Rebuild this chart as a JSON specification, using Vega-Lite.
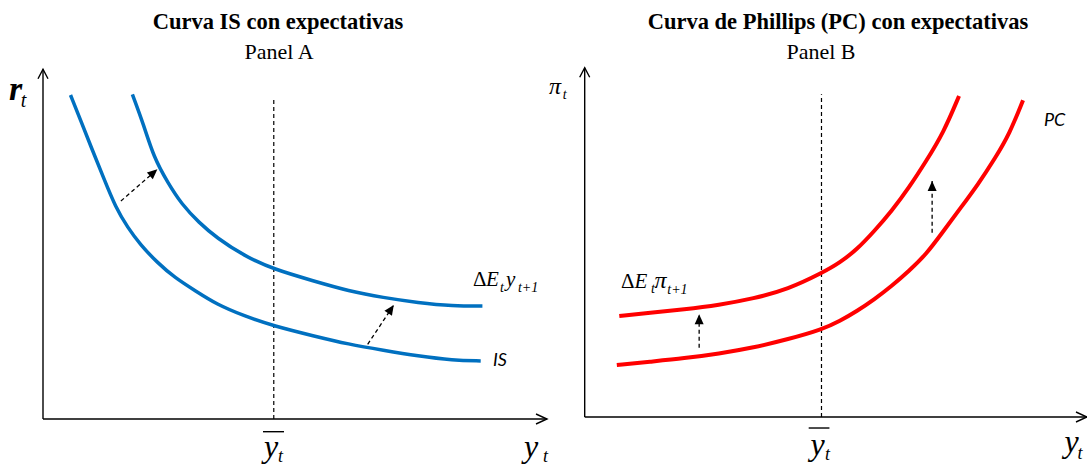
{
  "$schema": "https://vega.github.io/schema/vega-lite/v6.json",
  "padding": 0,
  "autosize": {"type": "pad"},
  "background": "white",
  "spacing": 0,
  "bounds": "flush",
  "config": {"view": {"stroke": "transparent"}},
  "resolve": {"scale": {"x": "independent", "y": "independent"}},
  "datasets": {
    "curvesA": [
      {"s": "IS", "x": 5.47, "y": 93.10}, {"s": "IS", "x": 7.54, "y": 85.63}, {"s": "IS", "x": 9.62, "y": 77.96},
      {"s": "IS", "x": 12.03, "y": 69.34}, {"s": "IS", "x": 14.45, "y": 60.72}, {"s": "IS", "x": 16.87, "y": 54.97},
      {"s": "IS", "x": 19.28, "y": 50.20}, {"s": "IS", "x": 22.74, "y": 44.91}, {"s": "IS", "x": 26.20, "y": 40.60},
      {"s": "IS", "x": 30.34, "y": 36.78}, {"s": "IS", "x": 34.49, "y": 32.96}, {"s": "IS", "x": 39.99, "y": 29.60},
      {"s": "IS", "x": 45.88, "y": 26.72}, {"s": "IS", "x": 53.84, "y": 23.85}, {"s": "IS", "x": 60.76, "y": 21.47},
      {"s": "IS", "x": 67.65, "y": 19.74}, {"s": "IS", "x": 74.57, "y": 18.10}, {"s": "IS", "x": 81.49, "y": 16.87},
      {"s": "IS", "x": 87.02, "y": 16.67},
      {"s": "IS2", "x": 17.77, "y": 93.30}, {"s": "IS2", "x": 19.98, "y": 84.68}, {"s": "IS2", "x": 22.05, "y": 75.09},
      {"s": "IS2", "x": 24.81, "y": 67.90}, {"s": "IS2", "x": 27.57, "y": 61.69}, {"s": "IS2", "x": 31.03, "y": 56.41},
      {"s": "IS2", "x": 34.49, "y": 52.10}, {"s": "IS2", "x": 40.02, "y": 46.84}, {"s": "IS2", "x": 45.88, "y": 43.02},
      {"s": "IS2", "x": 53.84, "y": 39.66}, {"s": "IS2", "x": 60.76, "y": 36.78}, {"s": "IS2", "x": 67.65, "y": 34.86},
      {"s": "IS2", "x": 74.57, "y": 33.42}, {"s": "IS2", "x": 81.49, "y": 32.47}, {"s": "IS2", "x": 87.36, "y": 32.47}
    ],
    "curvesB": [
      {"s": "PC", "x": 6.40, "y": 14.89}, {"s": "PC", "x": 12.95, "y": 15.84}, {"s": "PC", "x": 19.83, "y": 16.80},
      {"s": "PC", "x": 26.72, "y": 18.13}, {"s": "PC", "x": 33.61, "y": 19.85}, {"s": "PC", "x": 40.49, "y": 22.24},
      {"s": "PC", "x": 47.38, "y": 25.10}, {"s": "PC", "x": 50.82, "y": 27.48}, {"s": "PC", "x": 54.26, "y": 30.35},
      {"s": "PC", "x": 57.70, "y": 33.69}, {"s": "PC", "x": 61.15, "y": 37.50}, {"s": "PC", "x": 64.59, "y": 41.80},
      {"s": "PC", "x": 68.03, "y": 46.57}, {"s": "PC", "x": 71.47, "y": 53.25}, {"s": "PC", "x": 74.92, "y": 59.93},
      {"s": "PC", "x": 78.37, "y": 66.61}, {"s": "PC", "x": 81.81, "y": 74.24}, {"s": "PC", "x": 84.57, "y": 80.93},
      {"s": "PC", "x": 87.32, "y": 90.66},
      {"s": "PC2", "x": 6.89, "y": 28.92}, {"s": "PC2", "x": 12.95, "y": 29.87}, {"s": "PC2", "x": 19.83, "y": 30.82},
      {"s": "PC2", "x": 26.72, "y": 32.06}, {"s": "PC2", "x": 33.61, "y": 33.88}, {"s": "PC2", "x": 40.49, "y": 36.55},
      {"s": "PC2", "x": 47.38, "y": 41.32}, {"s": "PC2", "x": 50.82, "y": 44.18}, {"s": "PC2", "x": 54.26, "y": 48.00},
      {"s": "PC2", "x": 57.70, "y": 53.25}, {"s": "PC2", "x": 61.15, "y": 58.98}, {"s": "PC2", "x": 64.59, "y": 65.65},
      {"s": "PC2", "x": 68.03, "y": 73.29}, {"s": "PC2", "x": 71.47, "y": 81.40}, {"s": "PC2", "x": 74.57, "y": 91.90}
    ],
    "axesA": [
      {"x": 0, "y": 0, "x2": 0, "y2": 100.5},
      {"x": 0, "y": 0, "x2": 100.2, "y2": 0},
      {"x": 43.74, "y": -3.65, "x2": 47.91, "y2": -3.65}
    ],
    "axesB": [
      {"x": 0, "y": 0, "x2": 0, "y2": 100.0},
      {"x": 0, "y": 0, "x2": 100.06, "y2": 0},
      {"x": 44.62, "y": -3.15, "x2": 48.75, "y2": -3.15}
    ],
    "tipYA": [{"x": 0, "y": 100.5}],
    "tipXA": [{"x": 100.2, "y": 0}],
    "tipYB": [{"x": 0, "y": 100.0}],
    "tipXB": [{"x": 100.06, "y": 0}],
    "refA": [{"x": 45.88, "y": 0, "x2": 45.88, "y2": 92.53}],
    "refB": [{"x": 47.17, "y": 0, "x2": 47.17, "y2": 92.38}],
    "shiftA": [
      {"x": 15.49, "y": 62.64, "x2": 22.74, "y2": 71.75},
      {"x": 64.55, "y": 21.47, "x2": 69.74, "y2": 32.76}
    ],
    "shiftB": [
      {"x": 22.80, "y": 19.85, "x2": 22.80, "y2": 29.40},
      {"x": 69.21, "y": 52.77, "x2": 69.21, "y2": 67.56}
    ],
    "headA1": [{"x": 22.74, "y": 71.75}],
    "headA2": [{"x": 69.74, "y": 32.76}],
    "headB": [{"x": 22.80, "y": 29.40}, {"x": 69.21, "y": 67.56}],
    "labelsA": [
      {"k": "title", "x": 46.72, "y": 112.07, "text": "Curva IS con expectativas"},
      {"k": "panel", "x": 46.92, "y": 103.45, "text": "Panel A"},
      {"k": "r", "x": -6.76, "y": 91.67, "text": "r"},
      {"k": "subR", "x": -4.4, "y": 89.51, "text": "t"},
      {"k": "axisIt", "x": 43.94, "y": -10.78, "text": "y"},
      {"k": "subBig", "x": 46.72, "y": -12.36, "text": "t"},
      {"k": "axisIt", "x": 95.63, "y": -10.78, "text": "y"},
      {"k": "subBig", "x": 99.40, "y": -12.36, "text": "t"},
      {"k": "delta", "x": 85.49, "y": 38.22, "text": "Δ"},
      {"k": "curveIt", "x": 88.07, "y": 38.22, "text": "E"},
      {"k": "subSmall", "x": 90.85, "y": 36.49, "text": "t"},
      {"k": "curveIt", "x": 92.05, "y": 38.22, "text": "y"},
      {"k": "subSmall", "x": 94.43, "y": 36.49, "text": "t+1"},
      {"k": "sans", "x": 89.46, "y": 15.23, "text": "IS"}
    ],
    "labelsB": [
      {"k": "title", "x": 50.46, "y": 111.08, "text": "Curva de Phillips (PC) con expectativas"},
      {"k": "panel", "x": 47.07, "y": 102.49, "text": "Panel B"},
      {"k": "pi", "x": -7.11, "y": 92.40, "text": "π"},
      {"k": "subSmall", "x": -4.38, "y": 90.95, "text": "t"},
      {"k": "axisIt", "x": 44.96, "y": -10.88, "text": "y"},
      {"k": "subBig", "x": 47.87, "y": -12.31, "text": "t"},
      {"k": "axisIt", "x": 95.58, "y": -10.02, "text": "y"},
      {"k": "subBig", "x": 98.15, "y": -12.02, "text": "t"},
      {"k": "delta", "x": 7.23, "y": 37.07, "text": "Δ"},
      {"k": "curveIt", "x": 9.92, "y": 37.07, "text": "E"},
      {"k": "subSmall", "x": 13.21, "y": 35.50, "text": "t"},
      {"k": "pi", "x": 13.90, "y": 37.07, "text": "π"},
      {"k": "subSmall", "x": 16.45, "y": 35.21, "text": "t+1"},
      {"k": "sans", "x": 91.49, "y": 83.31, "text": "PC"}
    ]
  },
  "hconcat": [
    {
      "width": 545,
      "height": 464,
      "encoding": {
        "x": {"field": "x", "type": "quantitative", "scale": {"domain": [-8.35, 100], "nice": false, "zero": false}, "axis": null},
        "y": {"field": "y", "type": "quantitative", "scale": {"domain": [-13.22, 120.11], "nice": false, "zero": false}, "axis": null}
      },
      "layer": [
        {"data": {"name": "refA"}, "mark": {"type": "rule", "color": "black", "strokeWidth": 1.2, "strokeDash": [4, 3]}, "encoding": {"x2": {"field": "x2"}, "y2": {"field": "y2"}}},
        {"data": {"name": "axesA"}, "mark": {"type": "rule", "color": "black", "strokeWidth": 1.4}, "encoding": {"x2": {"field": "x2"}, "y2": {"field": "y2"}}},
        {"data": {"name": "tipYA"}, "mark": {"type": "point", "shape": "M-0.5,0.95L0,0L0.5,0.95", "size": 400, "filled": false, "color": "black", "strokeWidth": 1.4, "opacity": 1}},
        {"data": {"name": "tipXA"}, "mark": {"type": "point", "shape": "M-1.1,-0.5L0,0L-1.1,0.5", "size": 400, "filled": false, "color": "black", "strokeWidth": 1.4, "opacity": 1}},
        {"data": {"name": "curvesA"}, "mark": {"type": "line", "color": "#0070C0", "strokeWidth": 3.5, "interpolate": "basis"}, "encoding": {"detail": {"field": "s"}}},
        {"data": {"name": "shiftA"}, "mark": {"type": "rule", "color": "black", "strokeWidth": 1.3, "strokeDash": [4, 3]}, "encoding": {"x2": {"field": "x2"}, "y2": {"field": "y2"}}},
        {"data": {"name": "headA1"}, "mark": {"type": "point", "shape": "M0,0L-0.45,1L0.45,1Z", "size": 400, "filled": true, "color": "black", "opacity": 1, "angle": 49}},
        {"data": {"name": "headA2"}, "mark": {"type": "point", "shape": "M0,0L-0.45,1L0.45,1Z", "size": 400, "filled": true, "color": "black", "opacity": 1, "angle": 34}},
        {"data": {"name": "labelsA"}, "transform": [{"filter": "datum.k === 'title'"}], "mark": {"type": "text", "font": "Liberation Serif", "fontSize": 22.5, "fontWeight": "bold", "align": "center", "baseline": "alphabetic", "color": "black"}, "encoding": {"text": {"field": "text"}}},
        {"data": {"name": "labelsA"}, "transform": [{"filter": "datum.k === 'panel'"}], "mark": {"type": "text", "font": "Liberation Serif", "fontSize": 22, "align": "center", "baseline": "alphabetic", "color": "black"}, "encoding": {"text": {"field": "text"}}},
        {"data": {"name": "labelsA"}, "transform": [{"filter": "datum.k === 'r'"}], "mark": {"type": "text", "font": "Liberation Serif", "fontSize": 34, "fontStyle": "italic", "fontWeight": "bold", "align": "left", "baseline": "alphabetic", "color": "black"}, "encoding": {"text": {"field": "text"}}},
        {"data": {"name": "labelsA"}, "transform": [{"filter": "datum.k === 'subR'"}], "mark": {"type": "text", "font": "Liberation Serif", "fontSize": 20, "fontStyle": "italic", "align": "left", "baseline": "alphabetic", "color": "black"}, "encoding": {"text": {"field": "text"}}},
        {"data": {"name": "labelsA"}, "transform": [{"filter": "datum.k === 'axisIt'"}], "mark": {"type": "text", "font": "Liberation Serif", "fontSize": 32, "fontStyle": "italic", "align": "left", "baseline": "alphabetic", "color": "black"}, "encoding": {"text": {"field": "text"}}},
        {"data": {"name": "labelsA"}, "transform": [{"filter": "datum.k === 'subBig'"}], "mark": {"type": "text", "font": "Liberation Serif", "fontSize": 18, "fontStyle": "italic", "align": "left", "baseline": "alphabetic", "color": "black"}, "encoding": {"text": {"field": "text"}}},
        {"data": {"name": "labelsA"}, "transform": [{"filter": "datum.k === 'delta'"}], "mark": {"type": "text", "font": "Liberation Serif", "fontSize": 21, "align": "left", "baseline": "alphabetic", "color": "black"}, "encoding": {"text": {"field": "text"}}},
        {"data": {"name": "labelsA"}, "transform": [{"filter": "datum.k === 'curveIt'"}], "mark": {"type": "text", "font": "Liberation Serif", "fontSize": 21, "fontStyle": "italic", "align": "left", "baseline": "alphabetic", "color": "black"}, "encoding": {"text": {"field": "text"}}},
        {"data": {"name": "labelsA"}, "transform": [{"filter": "datum.k === 'subSmall'"}], "mark": {"type": "text", "font": "Liberation Serif", "fontSize": 14, "fontStyle": "italic", "align": "left", "baseline": "alphabetic", "color": "black"}, "encoding": {"text": {"field": "text"}}},
        {"data": {"name": "labelsA"}, "transform": [{"filter": "datum.k === 'sans'"}], "mark": {"type": "text", "font": "Lato", "fontSize": 18, "fontStyle": "italic", "align": "left", "baseline": "alphabetic", "color": "black"}, "encoding": {"text": {"field": "text"}}}
      ]
    },
    {
      "width": 542,
      "height": 464,
      "encoding": {
        "x": {"field": "x", "type": "quantitative", "scale": {"domain": [-7.709, 100.26], "nice": false, "zero": false}, "axis": null},
        "y": {"field": "y", "type": "quantitative", "scale": {"domain": [-13.74, 119.1], "nice": false, "zero": false}, "axis": null}
      },
      "layer": [
        {"data": {"name": "refB"}, "mark": {"type": "rule", "color": "black", "strokeWidth": 1.2, "strokeDash": [4, 3]}, "encoding": {"x2": {"field": "x2"}, "y2": {"field": "y2"}}},
        {"data": {"name": "axesB"}, "mark": {"type": "rule", "color": "black", "strokeWidth": 1.4}, "encoding": {"x2": {"field": "x2"}, "y2": {"field": "y2"}}},
        {"data": {"name": "tipYB"}, "mark": {"type": "point", "shape": "M-0.5,0.95L0,0L0.5,0.95", "size": 400, "filled": false, "color": "black", "strokeWidth": 1.4, "opacity": 1}},
        {"data": {"name": "tipXB"}, "mark": {"type": "point", "shape": "M-1.1,-0.5L0,0L-1.1,0.5", "size": 400, "filled": false, "color": "black", "strokeWidth": 1.4, "opacity": 1}},
        {"data": {"name": "curvesB"}, "mark": {"type": "line", "color": "#FF0000", "strokeWidth": 4, "interpolate": "basis"}, "encoding": {"detail": {"field": "s"}}},
        {"data": {"name": "shiftB"}, "mark": {"type": "rule", "color": "black", "strokeWidth": 1.3, "strokeDash": [4, 3]}, "encoding": {"x2": {"field": "x2"}, "y2": {"field": "y2"}}},
        {"data": {"name": "headB"}, "mark": {"type": "point", "shape": "M0,0L-0.45,1L0.45,1Z", "size": 400, "filled": true, "color": "black", "opacity": 1}},
        {"data": {"name": "labelsB"}, "transform": [{"filter": "datum.k === 'title'"}], "mark": {"type": "text", "font": "Liberation Serif", "fontSize": 22.5, "fontWeight": "bold", "align": "center", "baseline": "alphabetic", "color": "black"}, "encoding": {"text": {"field": "text"}}},
        {"data": {"name": "labelsB"}, "transform": [{"filter": "datum.k === 'panel'"}], "mark": {"type": "text", "font": "Liberation Serif", "fontSize": 22, "align": "center", "baseline": "alphabetic", "color": "black"}, "encoding": {"text": {"field": "text"}}},
        {"data": {"name": "labelsB"}, "transform": [{"filter": "datum.k === 'axisIt'"}], "mark": {"type": "text", "font": "Liberation Serif", "fontSize": 32, "fontStyle": "italic", "align": "left", "baseline": "alphabetic", "color": "black"}, "encoding": {"text": {"field": "text"}}},
        {"data": {"name": "labelsB"}, "transform": [{"filter": "datum.k === 'subBig'"}], "mark": {"type": "text", "font": "Liberation Serif", "fontSize": 18, "fontStyle": "italic", "align": "left", "baseline": "alphabetic", "color": "black"}, "encoding": {"text": {"field": "text"}}},
        {"data": {"name": "labelsB"}, "transform": [{"filter": "datum.k === 'delta'"}], "mark": {"type": "text", "font": "Liberation Serif", "fontSize": 21, "align": "left", "baseline": "alphabetic", "color": "black"}, "encoding": {"text": {"field": "text"}}},
        {"data": {"name": "labelsB"}, "transform": [{"filter": "datum.k === 'curveIt'"}], "mark": {"type": "text", "font": "Liberation Serif", "fontSize": 21, "fontStyle": "italic", "align": "left", "baseline": "alphabetic", "color": "black"}, "encoding": {"text": {"field": "text"}}},
        {"data": {"name": "labelsB"}, "transform": [{"filter": "datum.k === 'pi'"}], "mark": {"type": "text", "font": "Liberation Serif", "fontSize": 24, "fontStyle": "italic", "align": "left", "baseline": "alphabetic", "color": "black"}, "encoding": {"text": {"field": "text"}}},
        {"data": {"name": "labelsB"}, "transform": [{"filter": "datum.k === 'subSmall'"}], "mark": {"type": "text", "font": "Liberation Serif", "fontSize": 14, "fontStyle": "italic", "align": "left", "baseline": "alphabetic", "color": "black"}, "encoding": {"text": {"field": "text"}}},
        {"data": {"name": "labelsB"}, "transform": [{"filter": "datum.k === 'sans'"}], "mark": {"type": "text", "font": "Lato", "fontSize": 18, "fontStyle": "italic", "align": "left", "baseline": "alphabetic", "color": "black"}, "encoding": {"text": {"field": "text"}}}
      ]
    }
  ]
}
